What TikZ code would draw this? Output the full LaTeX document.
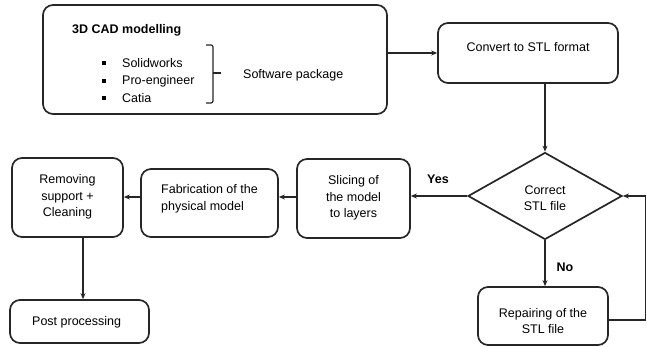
\documentclass[tikz,border=0pt]{standalone}
\usepackage{fontspec}
\setmainfont{Liberation Sans}
\usetikzlibrary{shapes.geometric,arrows.meta}
\begin{document}
\begin{tikzpicture}[x=1pt,y=-1pt,
  box/.style={draw=black!85,line width=1.7pt,rounded corners=10pt,inner sep=0pt},
  lbl/.style={inner sep=0pt,align=center,font=\fontsize{12.5}{16.5}\selectfont},
  blbl/.style={lbl,font=\bfseries\fontsize{12.5}{16.5}\selectfont},
  conn/.style={draw=black!85,line width=1.4pt,-{Stealth[length=6pt,width=5pt]}},
  plain/.style={draw=black!85,line width=1.4pt}]
\useasboundingbox (0,0) rectangle (647,347);
% boxes
\node[box,minimum width=344pt,minimum height=109pt] (cad) at (215,59.5) {};
\node[box,minimum width=180pt,minimum height=60pt] (conv) at (528,53) {};
\node[draw=black!85,line width=1.7pt,diamond,inner sep=0pt,minimum width=154pt,minimum height=87pt] (dia) at (545,196) {};
\node[box,minimum width=113pt,minimum height=79pt] (slice) at (353.5,198.5) {};
\node[box,minimum width=137pt,minimum height=68pt] (fab) at (209.5,203) {};
\node[box,minimum width=111pt,minimum height=79pt] (rem) at (67.5,197.5) {};
\node[box,minimum width=139pt,minimum height=43pt] (post) at (79.5,321.5) {};
\node[box,minimum width=130pt,minimum height=58pt] (rep) at (543,316) {};
% texts
\node[blbl,anchor=west] (cadt) at (72,30) {3D CAD modelling};
\node[fill=black,minimum size=3.5pt,inner sep=0pt] (b1) at (104,63) {};
\node[fill=black,minimum size=3.5pt,inner sep=0pt] (b2) at (104,81) {};
\node[fill=black,minimum size=3.5pt,inner sep=0pt] (b3) at (104,98) {};
\node[lbl,anchor=west] (i1) at (122,63) {Solidworks};
\node[lbl,anchor=west] (i2) at (122,81) {Pro-engineer};
\node[lbl,anchor=west] (i3) at (122,98) {Catia};
\node[lbl,anchor=west] (sw) at (243,75) {Software package};
\draw[plain,line width=1.2pt,rounded corners=2pt] (206,45) -- (213,45) -- (213,103) -- (206,103);
\draw[plain,line width=1.2pt] (213,73) -- (221,73);
\node[lbl] (convt) at (528,47) {Convert to STL format};
\node[lbl] (diat) at (545,198) {Correct\\STL file};
\node[lbl] (slicet) at (353.5,198) {Slicing of\\the model\\to layers};
\node[lbl,align=left,anchor=west] (fabt) at (161,199) {Fabrication of the\\physical model};
\node[lbl] (remt) at (67.5,197) {Removing\\support +\\Cleaning};
\node[lbl,anchor=west] (postt) at (32,322) {Post processing};
\node[lbl] (rept) at (543,321) {Repairing of the\\STL file};
\node[blbl] (yes) at (438,179) {Yes};
\node[blbl] (no) at (565,267) {No};
% connectors
\draw[conn] (conv.west -| cad.east) -- (conv.west);
\draw[conn] (dia.north |- conv.south) -- (dia.north);
\draw[conn] (dia.west) -- (dia.west -| slice.east);
\draw[conn] (dia.south) -- (dia.south |- rep.north);
\draw[conn] ([yshift=-4pt]rep.east) -| (645.5,196) -- (dia.east);
\draw[conn] (slice.west |- 0,197) -- (fab.east |- 0,197);
\draw[conn] (fab.west |- 0,197) -- (rem.east |- 0,197);
\draw[conn] (rem.south -| 83,0) -- (post.north -| 83,0);
\end{tikzpicture}
\end{document}
